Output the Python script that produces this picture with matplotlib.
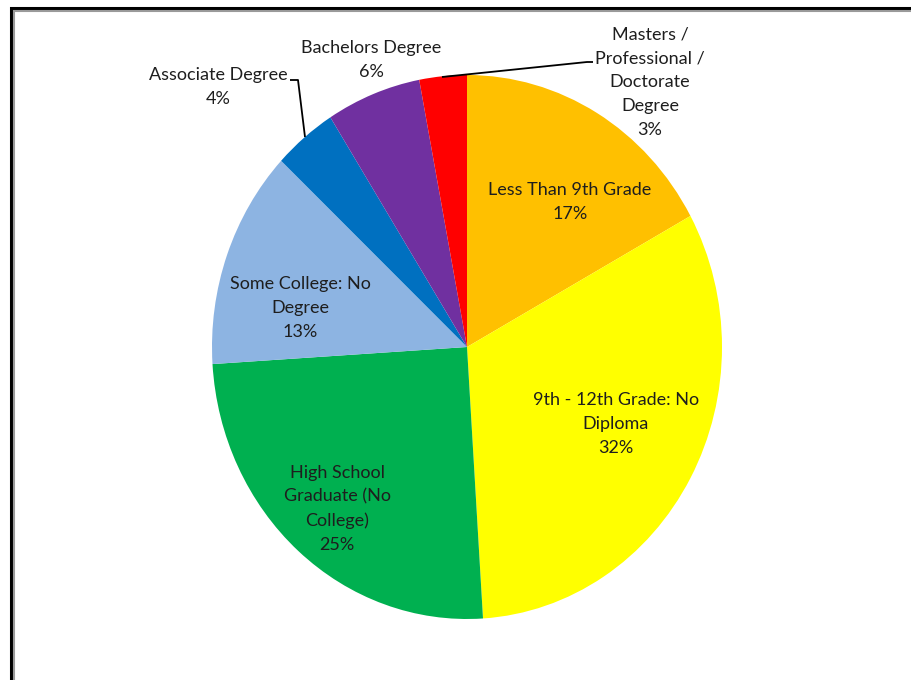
import matplotlib
matplotlib.use("Agg")
import matplotlib.pyplot as plt

W_PX, H_PX = 911, 680
DPI = 100

# Educational attainment shares, clockwise from 12 o'clock
categories = [
    "Less Than 9th Grade",
    "9th - 12th Grade: No\nDiploma",
    "High School\nGraduate (No\nCollege)",
    "Some College: No\nDegree",
    "Associate Degree",
    "Bachelors Degree",
    "Masters /\nProfessional /\nDoctorate\nDegree",
]
shares = [17, 32, 25, 13, 4, 6, 3]
colors = ["#FFC000", "#FFFF00", "#00B050", "#8DB4E2", "#0070C0", "#7030A0", "#FF0000"]

# label anchor points in pixel space (x, y from top)
label_xy = [(570, 202), (616, 424), (337, 509), (300, 308),
            (218, 87), (371, 60), (650, 82)]
# leader lines for the two small outside labels
leaders = {
    4: [(290, 80), (298, 80), (305, 137)],
    6: [(442, 77), (587, 62), (593, 62)],
}

plt.rcParams["font.family"] = ["Lato", "DejaVu Sans"]

fig = plt.figure(figsize=(W_PX / DPI, H_PX / DPI), dpi=DPI)

# pie axes: center (467, 347), radii 255 x 272 px (slightly stretched vertically)
cx, cy, rx, ry = 467, 347, 255, 272
ax = fig.add_axes([(cx - rx) / W_PX, (H_PX - cy - ry) / H_PX, 2 * rx / W_PX, 2 * ry / H_PX])
ax.pie(shares, colors=colors, startangle=90, counterclock=False,
       wedgeprops=dict(linewidth=0))
ax.set_aspect("auto")
ax.set_xlim(-1, 1)
ax.set_ylim(-1, 1)
ax.axis("off")

# overlay in pixel coordinates for labels, leader lines and the frame
ov = fig.add_axes([0, 0, 1, 1], facecolor="none")
ov.set_xlim(0, W_PX)
ov.set_ylim(H_PX, 0)
ov.axis("off")

txt_color = "#1e1e1e"
for i, (name, pct) in enumerate(zip(categories, shares)):
    x, y = label_xy[i]
    ov.text(x, y, f"{name}\n{pct}%", ha="center", va="center",
            fontsize=13, color=txt_color, linespacing=1.6)

for pts in leaders.values():
    xs, ys = zip(*pts)
    ov.plot(xs, ys, color="black", linewidth=1.3, solid_capstyle="butt")

# chart border with a soft gray inner edge
ov.plot([11, 11, W_PX], [H_PX, 8, 8], color="black", linewidth=2.2, solid_joinstyle="miter")
ov.plot([13.5, 13.5, W_PX], [H_PX, 10.5, 10.5], color="#9a9a9a", linewidth=1.5, solid_joinstyle="miter")

fig.savefig("out.png", dpi=DPI, facecolor="white")
